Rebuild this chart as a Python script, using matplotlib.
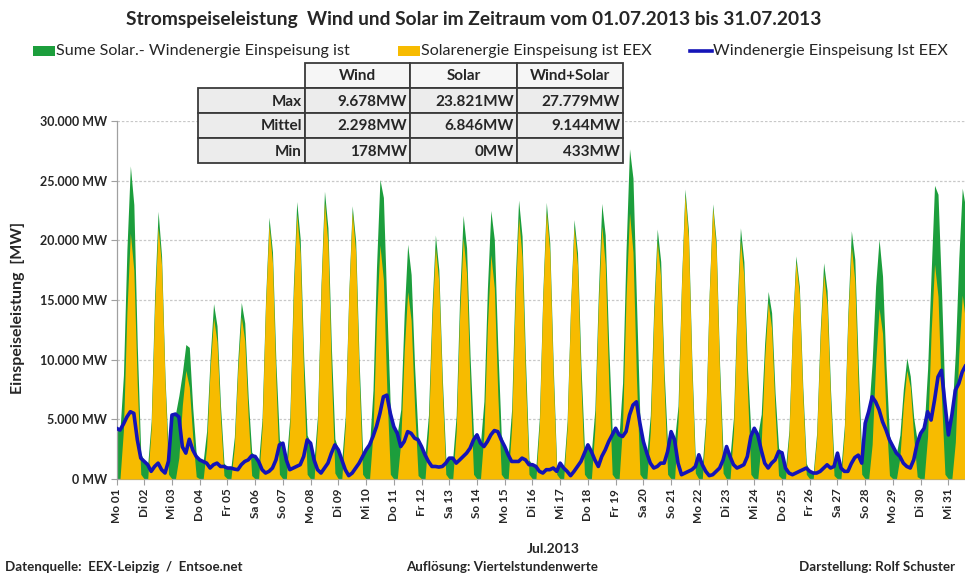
import numpy as np
import matplotlib
matplotlib.use("Agg")
import matplotlib.pyplot as plt
from matplotlib.patches import Rectangle
from matplotlib.lines import Line2D
from matplotlib.ticker import FuncFormatter

# ---------------- data ----------------
TITLE = "Stromspeiseleistung  Wind und Solar im Zeitraum vom 01.07.2013 bis 31.07.2013"
LEGEND_LABELS = ["Sume Solar.- Windenergie Einspeisung ist",
                 "Solarenergie Einspeisung ist EEX",
                 "Windenergie Einspeisung Ist EEX"]
WEEKDAYS = ["Mo", "Di", "Mi", "Do", "Fr", "Sa", "So"]
N_DAYS = 31
HOURS = [0, 3, 6, 9, 12, 15, 18, 21]

# solar feed-in (MW), one row per day at the hours above
SOLAR = [
    [0, 0, 4100, 14000, 20600, 17500, 7800, 400],
    [0, 0, 4200, 14300, 21100, 17900, 8000, 400],
    [0, 0, 1800, 6200, 9100, 7700, 3500, 200],
    [0, 0, 2700, 9200, 13500, 11500, 5100, 300],
    [0, 0, 2700, 9200, 13600, 11600, 5200, 300],
    [0, 0, 4300, 14500, 21300, 18100, 8100, 400],
    [0, 0, 4400, 15100, 22200, 18900, 8400, 400],
    [0, 0, 4600, 15800, 23200, 19700, 8800, 500],
    [0, 0, 4500, 15200, 22400, 19000, 8500, 400],
    [0, 0, 3900, 13300, 19600, 16700, 7400, 400],
    [0, 0, 3100, 10700, 15700, 13300, 6000, 300],
    [0, 0, 3900, 13200, 19400, 16500, 7400, 400],
    [0, 0, 4000, 13700, 20200, 17200, 7700, 400],
    [0, 0, 3800, 12800, 18800, 16000, 7100, 400],
    [0, 0, 4400, 14900, 21900, 18600, 8300, 400],
    [0, 0, 4500, 15200, 22400, 19000, 8500, 400],
    [0, 0, 4200, 14300, 21100, 17900, 8000, 400],
    [0, 0, 4200, 14400, 21200, 18000, 8100, 400],
    [0, 0, 4500, 15200, 22300, 19000, 8500, 400],
    [0, 0, 4000, 13500, 19900, 16900, 7600, 400],
    [0, 0, 4800, 16200, 23800, 20200, 9000, 500],
    [0, 0, 4500, 15400, 22700, 19300, 8600, 500],
    [0, 0, 4000, 13600, 20000, 17000, 7600, 400],
    [0, 0, 3000, 10100, 14800, 12600, 5600, 300],
    [0, 0, 3600, 12400, 18200, 15500, 6900, 400],
    [0, 0, 3400, 11700, 17200, 14600, 6500, 300],
    [0, 0, 3900, 13300, 19500, 16600, 7400, 400],
    [0, 0, 2900, 9700, 14300, 12200, 5400, 300],
    [0, 0, 1800, 6200, 9100, 7700, 3500, 200],
    [0, 0, 3600, 12200, 18000, 15300, 6800, 400],
    [0, 0, 3100, 10500, 15400, 13100, 5900, 300],
]

# wind feed-in (MW), one row per day at the hours above
WIND = [
    [4250, 4100, 4600, 5200, 5640, 5500, 3300, 1750],
    [1470, 1200, 640, 1050, 1330, 780, 500, 1500],
    [5360, 5440, 5200, 2700, 2170, 3330, 2440, 1890],
    [1600, 1470, 1330, 920, 1200, 1330, 1050, 1050],
    [920, 920, 830, 780, 1200, 1470, 1600, 1950],
    [1890, 1470, 780, 500, 640, 920, 1600, 2860],
    [3000, 1600, 780, 920, 1050, 1200, 1890, 3280],
    [3000, 1600, 780, 500, 920, 1330, 2170, 2860],
    [2440, 1600, 780, 280, 500, 920, 1330, 1890],
    [2440, 2860, 3560, 4390, 5500, 6890, 7030, 5500],
    [4390, 3830, 2720, 3140, 3970, 3830, 3420, 3280],
    [2720, 2030, 1470, 1050, 1050, 1000, 1050, 1330],
    [1750, 1750, 1330, 1600, 1890, 2170, 2580, 3280],
    [3700, 3000, 2720, 3140, 3700, 4060, 3970, 3280],
    [2720, 2030, 1470, 1470, 1470, 1750, 1600, 1200],
    [1200, 1050, 640, 500, 780, 780, 920, 640],
    [1330, 920, 640, 280, 640, 1050, 1470, 2170],
    [2860, 2300, 1600, 1050, 1890, 2440, 3140, 3700],
    [4250, 3700, 3560, 3970, 5360, 6200, 6470, 4670],
    [3140, 2170, 1330, 920, 1050, 1330, 1330, 2300],
    [3970, 3280, 1330, 360, 500, 640, 780, 1050],
    [2030, 1200, 640, 280, 360, 640, 920, 1600],
    [2720, 1890, 1200, 920, 1050, 1200, 1890, 3560],
    [4250, 3700, 2440, 1330, 920, 1330, 1600, 2300],
    [2200, 920, 500, 360, 500, 640, 780, 920],
    [640, 500, 500, 640, 920, 1190, 920, 1050],
    [2170, 920, 640, 640, 1300, 1800, 2000, 1330],
    [4670, 5640, 6890, 6470, 5800, 4800, 4110, 3280],
    [2720, 2170, 1890, 1330, 1050, 920, 1610, 3000],
    [3830, 4250, 5640, 4940, 6610, 8560, 9110, 6330],
    [3690, 5360, 7440, 8000, 8970, 9530, 9678, 9400],
]

TABLE_COLS = ["Wind", "Solar", "Wind+Solar"]
TABLE_ROWS = ["Max", "Mittel", "Min"]
TABLE_VALUES = [["9.678MW", "23.821MW", "27.779MW"],
                ["2.298MW", "6.846MW", "9.144MW"],
                ["178MW", "0MW", "433MW"]]

Y_TICKS = [0, 5000, 10000, 15000, 20000, 25000, 30000]
Y_LABEL = "Einspeiseleistung  [MW]"
X_LABEL = "Jul.2013"
FOOT_LEFT = "Datenquelle:  EEX-Leipzig  /  Entsoe.net"
FOOT_MID = "Auflösung: Viertelstundenwerte"
FOOT_RIGHT = "Darstellung: Rolf Schuster"

# ---------------- style ----------------
GREEN = "#1c9e3c"
YELLOW = "#f7bb00"
BLUE = "#1414b8"
TXT = "#262626"
FONT = "Lato"

W, H = 965, 576
fig = plt.figure(figsize=(W / 100, H / 100), dpi=100)
fig.patch.set_facecolor("white")

ax_left, ax_right, ax_top, ax_bot = 116.5, 965, 121, 479
ax = fig.add_axes([ax_left / W, 1 - ax_bot / H, (ax_right - ax_left) / W, (ax_bot - ax_top) / H])

solar = np.array(SOLAR, dtype=float).ravel()
wind = np.array(WIND, dtype=float).ravel()
t = (np.arange(N_DAYS)[:, None] + np.array(HOURS)[None, :] / 24.0).ravel()

ax.fill_between(t, 0, solar + wind, color=GREEN, lw=0, zorder=2)
ax.fill_between(t, 0, solar, color=YELLOW, lw=0, zorder=3)
ax.plot(t, wind, color=BLUE, lw=2.6, zorder=4, solid_joinstyle="round")

ax.set_xlim(0, (ax_right - ax_left) / 27.73)
ax.set_ylim(0, 30000)
ax.set_yticks(Y_TICKS)
ax.yaxis.set_major_formatter(FuncFormatter(lambda v, p: f"{v:,.0f}".replace(",", ".") + " MW"))
day_ticks = np.arange(N_DAYS)
ax.set_xticks(day_ticks)
ax.set_xticklabels([f"{WEEKDAYS[d % 7]} {d + 1:02d}" for d in day_ticks], rotation=90)
ax.grid(axis="y", color="#c8c8c8", lw=0.9, ls=(0, (2, 1.5)), zorder=0)
for s in ["top", "right"]:
    ax.spines[s].set_visible(False)
for s in ["left", "bottom"]:
    ax.spines[s].set_color("#a0a0a0")
    ax.spines[s].set_linewidth(0.9)
ax.tick_params(axis="y", length=4, color="#a0a0a0", labelsize=9, labelcolor=TXT, pad=3)
ax.tick_params(axis="x", length=4, color="#a0a0a0", labelsize=8.5, labelcolor=TXT, pad=3)
for lab in ax.get_yticklabels() + ax.get_xticklabels():
    lab.set_fontfamily(FONT)
    lab.set_fontweight("bold")

# ---------------- overlay (pixel coordinates) ----------------
ov = fig.add_axes([0, 0, 1, 1])
ov.set_xlim(0, W)
ov.set_ylim(H, 0)
ov.axis("off")

ov.text(474, 19, TITLE, ha="center", va="center", fontsize=13.8, fontweight="bold",
        color=TXT, family=FONT)

ov.text(18, 308, Y_LABEL, rotation=90, ha="center", va="center", fontsize=11.5,
        fontweight="bold", color=TXT, family=FONT)

ov.text(553, 549, X_LABEL, ha="center", va="center", fontsize=10, fontweight="bold", color=TXT, family=FONT)
ov.text(5, 567, FOOT_LEFT, ha="left", va="center", fontsize=9.6, fontweight="bold", color=TXT, family=FONT)
ov.text(502, 567, FOOT_MID, ha="center", va="center", fontsize=9.6, fontweight="bold", color=TXT, family=FONT)
ov.text(955, 567, FOOT_RIGHT, ha="right", va="center", fontsize=9.6, fontweight="bold", color=TXT, family=FONT)

# legend
leg_y = 51
LEG_FS = 11.6
ov.add_patch(Rectangle((33, leg_y - 5), 22, 10, color=GREEN, lw=0))
ov.text(56, leg_y, LEGEND_LABELS[0], ha="left", va="center", fontsize=LEG_FS, color=TXT, family=FONT)
ov.add_patch(Rectangle((398, leg_y - 5), 22, 10, color=YELLOW, lw=0))
ov.text(421, leg_y, LEGEND_LABELS[1], ha="left", va="center", fontsize=LEG_FS, color=TXT, family=FONT)
ov.add_line(Line2D([690, 712], [leg_y, leg_y], color=BLUE, lw=2.6))
ov.text(713, leg_y, LEGEND_LABELS[2], ha="left", va="center", fontsize=LEG_FS, color=TXT, family=FONT)

# table
col_x = [198, 305, 410, 517, 623]
row_y = [63, 88, 113, 138, 163]
border = "#3a3a3a"
TAB_FS = 11
for j in range(len(TABLE_COLS)):
    x0, x1 = col_x[j + 1], col_x[j + 2]
    ov.add_patch(Rectangle((x0, row_y[0]), x1 - x0, row_y[1] - row_y[0], facecolor="#f6f6f6",
                           edgecolor=border, lw=1.3))
    ov.text((x0 + x1) / 2, (row_y[0] + row_y[1]) / 2 + 1, TABLE_COLS[j], ha="center", va="center",
            fontsize=TAB_FS, fontweight="bold", color=TXT, family=FONT)
for i in range(len(TABLE_ROWS)):
    y0, y1 = row_y[i + 1], row_y[i + 2]
    for j in range(len(TABLE_COLS) + 1):
        x0, x1 = col_x[j], col_x[j + 1]
        ov.add_patch(Rectangle((x0, y0), x1 - x0, y1 - y0, facecolor="#ececec",
                               edgecolor=border, lw=1.3))
        label = TABLE_ROWS[i] if j == 0 else TABLE_VALUES[i][j - 1]
        ov.text(x1 - 3, (y0 + y1) / 2 + 1, label, ha="right", va="center",
                fontsize=TAB_FS, fontweight="bold", color=TXT, family=FONT)

fig.savefig("out.png", dpi=100, facecolor="white")
